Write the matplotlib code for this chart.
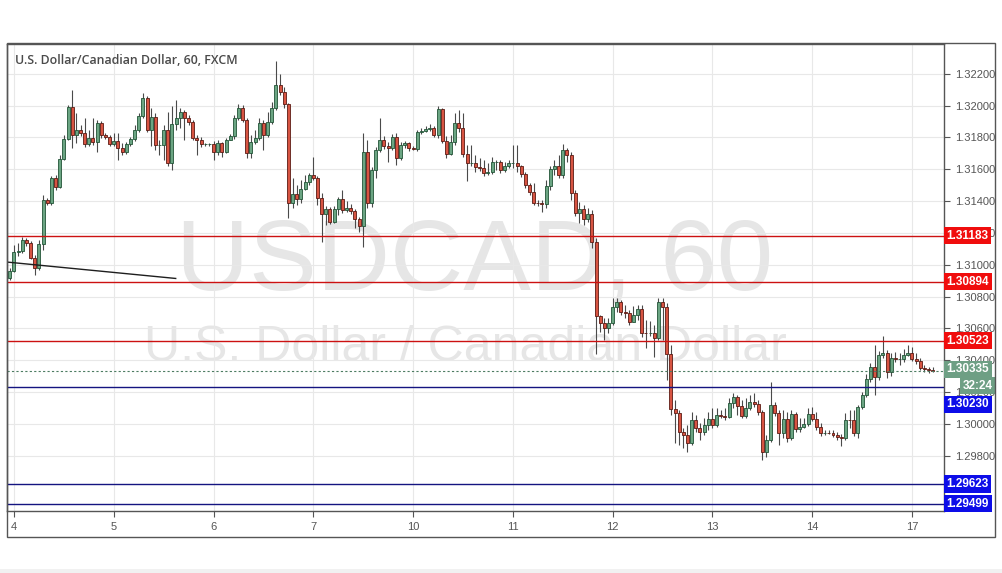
import numpy as np
import pandas as pd
import matplotlib
matplotlib.use("Agg")
import matplotlib.pyplot as plt
from matplotlib.patches import Rectangle

plt.rcParams['font.family'] = ['Liberation Sans', 'DejaVu Sans']

# hourly USD/CAD candles, FXCM, 3-17 Sep 2018 (close / high / low, open = previous close)
first_open = 1.30917
closes = np.array([
    1.30961, 1.31080, 1.31086, 1.31156, 1.31137, 1.31042, 1.30980, 1.31130, 1.31407, 1.31388,
    1.31545, 1.31488, 1.31664, 1.31790, 1.31991, 1.31815, 1.31846, 1.31827, 1.31758, 1.31796,
    1.31771, 1.31890, 1.31815, 1.31802, 1.31758, 1.31777, 1.31733, 1.31708, 1.31758, 1.31790,
    1.31846, 1.31934, 1.32047, 1.31846, 1.31928, 1.31752, 1.31752, 1.31846, 1.31639, 1.31884,
    1.31922, 1.31959, 1.31922, 1.31897, 1.31796, 1.31784, 1.31758, 1.31758, 1.31760, 1.31708,
    1.31765, 1.31708, 1.31784, 1.31809, 1.31922, 1.31984, 1.31909, 1.31702, 1.31771, 1.31796,
    1.31890, 1.31815, 1.31897, 1.31984, 1.32129, 1.32085, 1.32010, 1.31388, 1.31444, 1.31413,
    1.31476, 1.31520, 1.31564, 1.31545, 1.31419, 1.31319, 1.31350, 1.31269, 1.31350, 1.31413,
    1.31344, 1.31356, 1.31338, 1.31287, 1.31243, 1.31708, 1.31388, 1.31595, 1.31721, 1.31784,
    1.31746, 1.31733, 1.31802, 1.31670, 1.31752, 1.31765, 1.31733, 1.31727, 1.31834, 1.31840,
    1.31853, 1.31859, 1.31815, 1.31978, 1.31777, 1.31696, 1.31771, 1.31890, 1.31859, 1.31696,
    1.31639, 1.31639, 1.31614, 1.31608, 1.31576, 1.31583, 1.31645, 1.31645, 1.31595, 1.31620,
    1.31639, 1.31640, 1.31620, 1.31570, 1.31501, 1.31457, 1.31388, 1.31386, 1.31382, 1.31495,
    1.31601, 1.31620, 1.31564, 1.31721, 1.31689, 1.31451, 1.31325, 1.31350, 1.31287, 1.31319,
    1.31143, 1.30678, 1.30634, 1.30603, 1.30634, 1.30735, 1.30766, 1.30703, 1.30697, 1.30641,
    1.30685, 1.30722, 1.30571, 1.30570, 1.30571, 1.30540, 1.30766, 1.30735, 1.30440, 1.30094,
    1.30069, 1.29950, 1.29931, 1.29881, 1.30025, 1.29975, 1.29950, 1.29994, 1.30031, 1.29994,
    1.30057, 1.30050, 1.30044, 1.30132, 1.30170, 1.30113, 1.30050, 1.30100, 1.30138, 1.30126,
    1.30075, 1.29824, 1.29900, 1.30119, 1.30069, 1.29943, 1.30031, 1.29912, 1.30063, 1.29969,
    1.29981, 1.30000, 1.30063, 1.30031, 1.29981, 1.29943, 1.29945, 1.29943, 1.29931, 1.29918,
    1.29912, 1.30025, 1.30022, 1.29943, 1.30107, 1.30182, 1.30283, 1.30358, 1.30295, 1.30433,
    1.30446, 1.30327, 1.30414, 1.30408, 1.30410, 1.30433, 1.30446, 1.30408, 1.30396, 1.30352,
    1.30345, 1.30340, 1.30335])
highs = np.array([
    1.30980, 1.31124, 1.31137, 1.31174, 1.31168, 1.31149, 1.31061, 1.31156, 1.31438, 1.31419,
    1.31557, 1.31564, 1.31689, 1.31815, 1.32003, 1.32098, 1.31953, 1.31878, 1.31922, 1.31846,
    1.31922, 1.31909, 1.31903, 1.31827, 1.31815, 1.31827, 1.31827, 1.31765, 1.31771, 1.31802,
    1.31878, 1.31953, 1.32079, 1.32060, 1.31984, 1.31953, 1.31784, 1.31878, 1.31959, 1.31997,
    1.32035, 1.31984, 1.31972, 1.31941, 1.31909, 1.31815, 1.31802, 1.31765, 1.31765, 1.31777,
    1.31784, 1.31771, 1.31796, 1.31821, 1.31941, 1.32010, 1.32003, 1.31922, 1.31815, 1.31846,
    1.31922, 1.31909, 1.31959, 1.32022, 1.32280, 1.32198, 1.32116, 1.32016, 1.31545, 1.31501,
    1.31532, 1.31564, 1.31576, 1.31677, 1.31557, 1.31451, 1.31369, 1.31363, 1.31369, 1.31426,
    1.31470, 1.31400, 1.31382, 1.31350, 1.31300, 1.31827, 1.31784, 1.31614, 1.31740, 1.31922,
    1.31809, 1.31771, 1.31821, 1.31827, 1.31771, 1.31777, 1.31771, 1.31746, 1.31846, 1.31859,
    1.31871, 1.31884, 1.31871, 1.31997, 1.31984, 1.31809, 1.31815, 1.31953, 1.31972, 1.31953,
    1.31752, 1.31752, 1.31689, 1.31670, 1.31658, 1.31639, 1.31677, 1.31658, 1.31658, 1.31645,
    1.31658, 1.31752, 1.31752, 1.31627, 1.31583, 1.31513, 1.31513, 1.31407, 1.31407, 1.31532,
    1.31620, 1.31658, 1.31689, 1.31758, 1.31733, 1.31708, 1.31470, 1.31394, 1.31375, 1.31356,
    1.31344, 1.31168, 1.30685, 1.30666, 1.30666, 1.30791, 1.30791, 1.30779, 1.30747, 1.30716,
    1.30741, 1.30747, 1.30747, 1.30653, 1.30647, 1.30622, 1.30791, 1.30791, 1.30760, 1.30496,
    1.30151, 1.30088, 1.29975, 1.29994, 1.30075, 1.30057, 1.30006, 1.30038, 1.30075, 1.30100,
    1.30100, 1.30088, 1.30100, 1.30163, 1.30195, 1.30182, 1.30151, 1.30163, 1.30182, 1.30195,
    1.30151, 1.30088, 1.29931, 1.30264, 1.30138, 1.30088, 1.30088, 1.30075, 1.30088, 1.30075,
    1.30038, 1.30038, 1.30100, 1.30107, 1.30075, 1.30006, 1.29962, 1.29962, 1.29962, 1.29950,
    1.29937, 1.30069, 1.30088, 1.30088, 1.30119, 1.30201, 1.30314, 1.30383, 1.30496, 1.30458,
    1.30553, 1.30465, 1.30446, 1.30452, 1.30446, 1.30471, 1.30496, 1.30484, 1.30446, 1.30414,
    1.30371, 1.30358, 1.30358])
lows = np.array([
    1.30904, 1.30955, 1.31055, 1.31074, 1.31118, 1.31036, 1.30936, 1.30967, 1.31093, 1.31375,
    1.31375, 1.31470, 1.31482, 1.31658, 1.31784, 1.31733, 1.31765, 1.31809, 1.31740, 1.31746,
    1.31752, 1.31708, 1.31796, 1.31790, 1.31746, 1.31746, 1.31658, 1.31689, 1.31696, 1.31746,
    1.31777, 1.31834, 1.31922, 1.31834, 1.31746, 1.31721, 1.31689, 1.31658, 1.31620, 1.31595,
    1.31846, 1.31859, 1.31784, 1.31878, 1.31784, 1.31689, 1.31740, 1.31746, 1.31746, 1.31658,
    1.31689, 1.31677, 1.31702, 1.31784, 1.31790, 1.31909, 1.31897, 1.31670, 1.31670, 1.31758,
    1.31784, 1.31721, 1.31802, 1.31884, 1.31972, 1.32066, 1.31984, 1.31294, 1.31356, 1.31375,
    1.31388, 1.31470, 1.31501, 1.31532, 1.31375, 1.31143, 1.31250, 1.31256, 1.31262, 1.31313,
    1.31325, 1.31331, 1.31319, 1.31231, 1.31206, 1.31112, 1.31356, 1.31363, 1.31545, 1.31708,
    1.31727, 1.31645, 1.31721, 1.31627, 1.31658, 1.31733, 1.31714, 1.31721, 1.31714, 1.31821,
    1.31834, 1.31840, 1.31802, 1.31796, 1.31765, 1.31670, 1.31689, 1.31752, 1.31834, 1.31677,
    1.31526, 1.31620, 1.31583, 1.31589, 1.31557, 1.31564, 1.31570, 1.31595, 1.31576, 1.31583,
    1.31608, 1.31608, 1.31583, 1.31551, 1.31482, 1.31438, 1.31375, 1.31369, 1.31331, 1.31356,
    1.31470, 1.31564, 1.31545, 1.31545, 1.31645, 1.31407, 1.31306, 1.31262, 1.31250, 1.31269,
    1.31105, 1.30440, 1.30578, 1.30528, 1.30571, 1.30622, 1.30703, 1.30685, 1.30666, 1.30622,
    1.30666, 1.30653, 1.30546, 1.30477, 1.30553, 1.30421, 1.30528, 1.30528, 1.30276, 1.30057,
    1.29881, 1.29868, 1.29849, 1.29824, 1.29868, 1.29950, 1.29900, 1.29931, 1.29962, 1.29975,
    1.29981, 1.30038, 1.30025, 1.30038, 1.30100, 1.30057, 1.30038, 1.30038, 1.30088, 1.30107,
    1.30057, 1.29774, 1.29793, 1.29887, 1.30050, 1.29868, 1.29912, 1.29887, 1.29900, 1.29950,
    1.29950, 1.29975, 1.29987, 1.30019, 1.29962, 1.29925, 1.29931, 1.29937, 1.29918, 1.29900,
    1.29862, 1.29900, 1.29975, 1.29925, 1.29912, 1.30094, 1.30170, 1.30264, 1.30182, 1.30276,
    1.30414, 1.30289, 1.30301, 1.30389, 1.30371, 1.30389, 1.30427, 1.30396, 1.30377, 1.30339,
    1.30327, 1.30320, 1.30327])

red_levels = [1.31183, 1.30894, 1.30523]
blue_levels = [1.30230, 1.29623, 1.29499]
last_price = 1.30335
countdown = "32:24"
# trend line drawn on the chart: (bar index, price) end points
trend_bars = [-0.7, 39.9]
trend_prices = [1.31017, 1.30914]
title = "U.S. Dollar/Canadian Dollar, 60, FXCM"
watermark_1 = "USDCAD, 60"
watermark_2 = "U.S. Dollar / Canadian Dollar"

# hourly bar times, forex week (Fri 21:00 -> Sun 21:00 closed)
hours = pd.date_range("2018-09-03 23:00", periods=400, freq="h")
closed = ((hours.dayofweek == 4) & (hours.hour >= 21)) | (hours.dayofweek == 5) | \
         ((hours.dayofweek == 6) & (hours.hour < 21))
times = hours[~closed][:len(closes)]

n = len(closes)
opens = np.r_[first_open, closes[:-1]]
highs = np.maximum(highs, np.maximum(opens, closes))
lows = np.minimum(lows, np.minimum(opens, closes))
x = np.arange(n)

tick_pos, tick_lab = [], []
for i in range(1, n):
    if times[i].date() != times[i - 1].date() and times[i].dayofweek != 6:
        tick_pos.append(i)
        tick_lab.append(str(times[i].day))

W, H = 1002, 573
fig = plt.figure(figsize=(W / 100, H / 100), dpi=100, facecolor='white')
ax = fig.add_axes([7 / W, 1 - 511 / H, (944 - 7) / W, (511 - 44) / H])

# page background pieces and outer frame
fig.add_artist(Rectangle((0, 0), 1, 4 / H, transform=fig.transFigure,
                         fc='#f1f1f1', ec='none', zorder=0))
fig.add_artist(Rectangle((7 / W, 1 - 537 / H), (995 - 7) / W, (537 - 43) / H,
                         transform=fig.transFigure, fill=False, ec='#555555', lw=1, zorder=5))

ax.set_xlim(-0.68, 224.7)
ax.set_ylim(1.294536, 1.323864)

# watermark
ax.text(0.4995, (511 - 290) / 467, watermark_1, transform=ax.transAxes, ha='center',
        va='baseline', fontsize=73, color='#e6e6e6', zorder=0)
ax.text(0.4888, (511 - 361) / 467, watermark_2, transform=ax.transAxes, ha='center',
        va='baseline', fontsize=36, color='#e6e6e6', zorder=0)

# candles
up = closes >= opens
body_lo = np.minimum(opens, closes)
body_h = np.maximum(np.abs(closes - opens), 0.00002)
ax.vlines(x, lows, highs, color='#4a4a4a', lw=0.8, zorder=3)
ax.bar(x[up], body_h[up], bottom=body_lo[up], width=0.72, color='#6ba583',
       edgecolor='#225437', lw=0.6, zorder=4)
ax.bar(x[~up], body_h[~up], bottom=body_lo[~up], width=0.72, color='#d75442',
       edgecolor='#5b1a13', lw=0.6, zorder=4)

# horizontal levels and trend line
for lv in red_levels:
    ax.axhline(lv, color='#cc1111', lw=1, zorder=5)
for lv in blue_levels:
    ax.axhline(lv, color='#141480', lw=1, zorder=5)
ax.axhline(last_price, color='#4e7d63', lw=0.8, ls=(0, (2, 2)), zorder=5)
ax.plot(trend_bars, trend_prices, color='#1e1e1e', lw=1, zorder=5)

ax.text((15 - 7) / 937, (511 - 60) / 467, title, transform=ax.transAxes, ha='left',
        va='center', fontsize=8.9, fontweight='semibold', color='#4a4a4a',
        family=['Open Sans', 'DejaVu Sans'], zorder=6)

# axes styling
ax.yaxis.tick_right()
ax.set_yticks(np.arange(1.298, 1.3221, 0.002))
ax.set_yticklabels([f"{v:.5f}" for v in np.arange(1.298, 1.3221, 0.002)])
ax.set_xticks(tick_pos)
ax.set_xticklabels(tick_lab)
ax.tick_params(axis='y', length=4, color='#555555', labelcolor='#555555', labelsize=8, pad=4)
ax.tick_params(axis='x', length=4, color='#555555', labelcolor='#555555', labelsize=8, pad=4)
ax.grid(True, color='#e8e8e8', lw=0.8)
ax.set_axisbelow(True)
for sp in ax.spines.values():
    sp.set_color('#555555')
    sp.set_linewidth(1)

# price labels on the scale; labels that would collide are pushed down like on the source
ytr = ax.get_yaxis_transform()
box_kw = dict(xycoords=ytr, textcoords='offset pixels', ha='left', va='center',
              color='white', fontsize=8.5, fontweight='bold', annotation_clip=False, zorder=10)
for lv in red_levels:
    ax.annotate(f"{lv:.5f}", xy=(1, lv), xytext=(2.6, 0),
                bbox=dict(boxstyle='square,pad=0.22', fc='#f00d0d', ec='none'), **box_kw)
for lv in blue_levels:
    shift = -17 if abs(lv - last_price) < 0.0015 else 0
    ax.annotate(f"{lv:.5f}", xy=(1, lv), xytext=(2.6, shift),
                bbox=dict(boxstyle='square,pad=0.22', fc='#0d0de8', ec='none'), **box_kw)
ax.annotate(f"{last_price:.5f}", xy=(1, last_price), xytext=(2.6, 1.5),
            bbox=dict(boxstyle='square,pad=0.22', fc='#6e9f84', ec='none'), **box_kw)
ax.annotate(countdown, xy=(1, last_price), xytext=(18.6, -15),
            bbox=dict(boxstyle='square,pad=0.22', fc='#6e9f84', ec='none'), **box_kw)

fig.savefig("out.png", dpi=100, facecolor='white')
